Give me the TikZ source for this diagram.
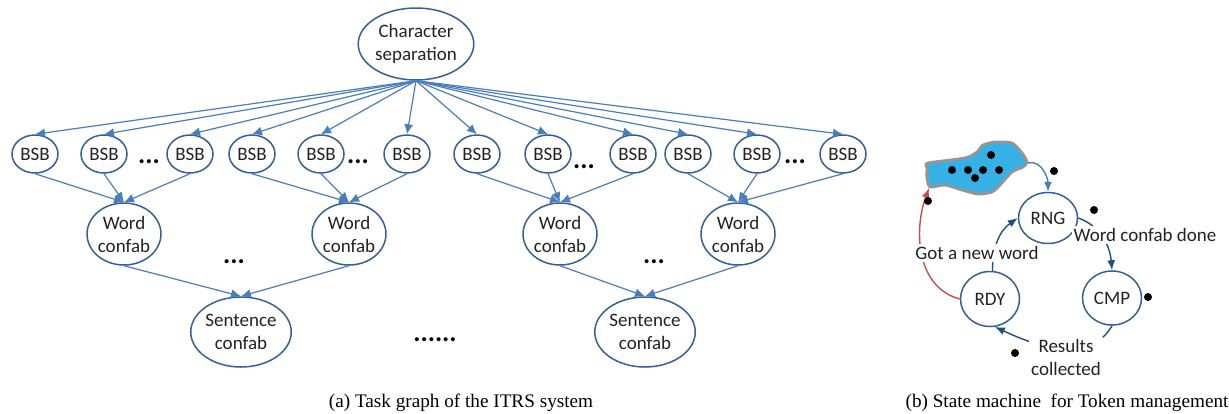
\documentclass[tikz,border=0pt]{standalone}
\usepackage{fontspec}
\setmainfont{Liberation Serif}
\newfontfamily\calfont{Carlito}
\usepackage{tikz}
\usetikzlibrary{arrows.meta,positioning,shapes.geometric}
\definecolor{inkgray}{HTML}{222222}
\definecolor{edgeblue}{HTML}{4A7EBB}
\definecolor{ringblue}{HTML}{33609A}
\definecolor{stateblue}{HTML}{1F4E85}
\definecolor{tokenred}{HTML}{C0504D}
\definecolor{poolblue}{HTML}{35B1E6}
\definecolor{poolrim}{HTML}{959595}
\newcommand{\labfont}{\calfont\fontsize{9.5}{11.5}\selectfont}
\tikzset{
  tasknode/.style={
    ellipse, draw=ringblue, line width=0.75pt, inner sep=0pt,
    align=center, text=inkgray, font=\labfont
  },
  statenode/.style={
    ellipse, draw=ringblue, line width=0.75pt, inner sep=0pt,
    minimum width=29.5pt, text=inkgray, font=\labfont
  },
  taskarrow/.style={-{Latex[length=5pt,width=4.5pt]}, line width=0.6pt, color=edgeblue},
  statearrow/.style={-{Latex[length=5pt,width=4pt]}, line width=0.7pt, color=stateblue},
  edgelabel/.style={fill=white, inner sep=1pt, align=center, text=inkgray, font=\labfont},
  token/.style={circle, fill=black, inner sep=0pt, minimum size=4pt},
  dotsnode/.style={anchor=base, inner sep=0pt, text=black, font=\calfont\bfseries\fontsize{13.5}{13.5}\selectfont},
  captionnode/.style={font=\fontsize{9.6}{11}\selectfont, text=black},
}
\begin{document}
\begin{tikzpicture}[x=0.5pt, y=-0.5pt]
  \useasboundingbox (0,0) rectangle (1229,413);

  \node[tasknode, minimum width=54pt, minimum height=36pt] (cs) at (416,44) {Character\\separation};

  \foreach \n/\x in {1/35,2/104,3/190,4/252,5/321,6/407,7/477,8/548,9/633,10/688,11/757,12/843}
    \node[tasknode, minimum width=23pt, minimum height=19pt] (bsb\n) at (\x,154) {BSB};

  \foreach \n/\x in {1/124,2/349,3/560,4/738}
    \node[tasknode, minimum width=35.5pt, minimum height=31pt] (w\n) at (\x,234) {Word\\confab};

  \node[tasknode, minimum width=43pt, minimum height=35pt] (s1) at (241,332) {Sentence\\confab};
  \node[tasknode, minimum width=42pt, minimum height=35pt] (s2) at (645,332) {Sentence\\confab};

  \foreach \n/\x/\y in {1/149/163,2/358/163,3/584/168,4/795/163,5/234/263,6/654/263}
    \node[dotsnode] (dots\n) at (\x,\y) {...};
  \node[dotsnode] (dots7) at (435,341) {......};

  \foreach \n in {1,...,12}
    \draw[taskarrow] (cs.south) -- (bsb\n.north);
  \foreach \a/\b in {1/1,2/1,3/1,4/2,5/2,6/2,7/3,8/3,9/3,10/4,11/4,12/4}
    \draw[taskarrow] (bsb\a.south) -- (w\b.north);
  \foreach \a/\b in {1/1,2/1,3/2,4/2}
    \draw[taskarrow] (w\a.south) -- (s\b.north);

  \node[captionnode] (capa) at (461,403) {(a) Task graph of the ITRS system};

  % token pool and state machine
  \draw[fill=poolblue, draw=poolrim, line width=1.4pt]
    plot[smooth cycle, tension=0.4] coordinates {(928,163) (965,158) (977,152) (983,145) (995,142)
      (1012,143) (1022,153) (1027,162) (1023,167) (1012,172) (1000,185) (992,192)
      (978,194) (962,190) (945,185) (930,187) (927,178) (927,168)};
  \coordinate (pool-out) at (1028,163);
  \coordinate (pool-in) at (929,188);
  \foreach \n/\x/\y in {1/952/170,2/968/170,3/983/170,4/999/170,5/991/155,6/975/178}
    \node[token] (pt\n) at (\x,\y) {};

  \node[statenode, minimum height=25.5pt] (rng) at (1048,218) {RNG};
  \node[statenode, minimum height=27pt] (cmp) at (1112,298) {CMP};
  \node[statenode, minimum height=27.5pt] (rdy) at (990,299) {RDY};

  \draw[-{Latex[length=5pt,width=4pt]}, line width=0.7pt, color=edgeblue]
    (pool-out) to[out=15, in=90] (rng.north);
  \draw[-{Latex[length=5pt,width=4pt]}, line width=0.7pt, color=tokenred]
    (rdy.west) to[out=165, in=-110] (pool-in);
  \draw[statearrow] (rdy.85) to[out=90, in=215] (rng.west);
  \draw[statearrow] (rng.east) to[out=-20, in=95] (cmp.north);
  \draw[statearrow] (cmp.south) to[out=-120, in=-25] (rdy.-80);

  \node[edgelabel] (lblnew) at (977,253) {Got a new word};
  \node[edgelabel] (lbldone) at (1145,235) {Word confab done};
  \node[edgelabel] (lblres) at (1066,357) {Results\\collected};

  \foreach \n/\x/\y in {1/928/201,2/1054/171,3/1094/210,4/1148/297,5/1015/353}
    \node[token] (tk\n) at (\x,\y) {};

  \node[captionnode] (capb) at (1067,403) {(b) State machine\ \ for Token management};
\end{tikzpicture}
\end{document}
